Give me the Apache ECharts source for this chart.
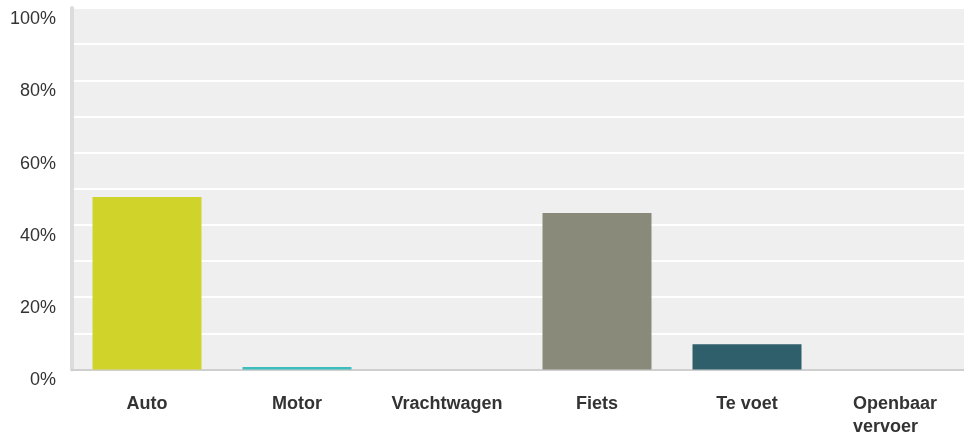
<!DOCTYPE html>
<html><head><meta charset="utf-8">
<script src="https://cdn.jsdelivr.net/npm/echarts@6/dist/echarts.min.js"></script>
<style>html,body{margin:0;padding:0;background:#fff}#c{width:964px;height:438px}</style>
</head><body><div id="c"></div>
<script>
const categories = ['Auto', 'Motor', 'Vrachtwagen', 'Fiets', 'Te voet', 'Openbaar vervoer'];
const values = [47.7, 0.7, 0, 43.3, 7.0, 0];
const barColors = ['#d0d42a', '#3bbcbd', '#a0a0a0', '#8a8a7a', '#2e5f6b', '#999999'];
const yTicks = [0, 20, 40, 60, 80, 100];

const chart = echarts.init(document.getElementById('c'), null, {renderer: 'canvas'});
chart.setOption({
  animation: false,
  grid: {left: 72, width: 900, top: 8, height: 361.5, show: true, backgroundColor: '#efefef', borderWidth: 0,
         containLabel: false, outerBoundsMode: 'none'},
  xAxis: {
    type: 'category', data: categories,
    axisLine: {show: true, lineStyle: {color: '#cfcfcf', width: 2}},
    axisTick: {show: false},
    axisLabel: {
      margin: 23, color: '#333', fontFamily: 'Liberation Sans', fontSize: 18, fontWeight: 'bold', interval: 0, lineHeight: 23,
      formatter: function (v) {
        if (v.length > 12) { return v.split(' ').map(function (w) { return '{w|' + w + '}'; }).join('\n'); }
        return v;
      },
      rich: {w: {width: 88, align: 'left', fontFamily: 'Liberation Sans', fontSize: 18, fontWeight: 'bold', color: '#333', lineHeight: 23}}
    }
  },
  yAxis: {
    type: 'value', min: 0, max: 100, interval: 10,
    axisLine: {show: true, lineStyle: {color: '#dcdcdc', width: 4}},
    axisTick: {show: false},
    splitLine: {show: true, lineStyle: {color: '#ffffff', width: 2}},
    axisLabel: {
      color: '#333', fontFamily: 'Liberation Sans', fontSize: 18, margin: 16, verticalAlign: 'top', padding: [2, 0, 0, 0],
      formatter: function (v) { return yTicks.indexOf(v) >= 0 ? v + '%' : ''; }
    }
  },
  series: [{
    type: 'bar', barWidth: 109,
    data: values.map(function (v, i) { return {value: v, itemStyle: {color: barColors[i]}}; })
  }]
});
</script></body></html>
